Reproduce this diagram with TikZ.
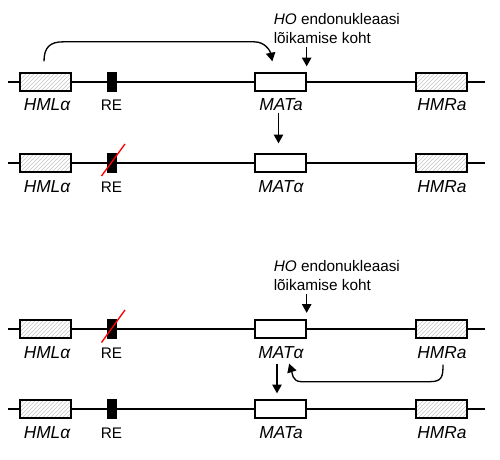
\documentclass[tikz,border=0pt]{standalone}
\usepackage{fontspec}
\setmainfont{Liberation Sans}
\usetikzlibrary{
    arrows.meta,
    positioning,
    calc,
    patterns
}
\tikzset{
  dna/.style    = {line width=1pt},
  gene/.style   = {draw, line width=1pt, fill=white, minimum width=38.25pt,
                   minimum height=13.5pt, inner sep=0pt},
  silent/.style = {draw, line width=1pt, preaction={fill=white},
                   pattern=north east lines, pattern color=gray!45,
                   minimum width=38.25pt, minimum height=13.5pt, inner sep=0pt},
  re/.style     = {draw, fill=black, minimum width=6.5pt,
                   minimum height=14pt, inner sep=0pt},
  lab/.style    = {font=\fontsize{13}{15}\selectfont\itshape, anchor=base, inner sep=0pt},
  relab/.style  = {font=\fontsize{11.5}{13}\selectfont, anchor=base, inner sep=0pt},
  note/.style   = {font=\fontsize{11.5}{13}\selectfont, anchor=base west, inner sep=0pt},
  arr/.style    = {-{Triangle[length=6.5pt,width=7pt]}, line width=1pt},
  cut/.style    = {red, line width=1pt}
}

\begin{document}
\begin{tikzpicture}[x=0.75pt, y=-0.75pt]
    \useasboundingbox (0,0) rectangle (500,460);
    \foreach \r/\y/\m in {1/82/a, 2/163/α, 3/329/α, 4/409/a}{
        \draw[dna] (8,\y) -- (485,\y);
        \node[silent] (hml\r) at (45.5,\y) {};
        \node[re]     (re\r)  at (111.5,\y) {};
        \node[gene]   (mat\r) at (280.5,\y) {};
        \node[silent] (hmr\r) at (441.5,\y) {};
        \node[lab]   (hmllab\r) at (47,\y+29)    {HMLα};
        \node[relab] (relab\r)  at (111.5,\y+29) {RE};
        \node[lab]   (matlab\r) at (281,\y+29)   {MAT\m};
        \node[lab]   (hmrlab\r) at (442,\y+29)   {HMRa};
    }
    \node[note] (ho1)   at (273.5,24.5) {\textit{HO} endonukleaasi};
    \node[note] (koht1) at (273.5,43.5) {lõikamise koht};
    \node[note] (ho3)   at (273.5,271)  {\textit{HO} endonukleaasi};
    \node[note] (koht3) at (273.5,290)  {lõikamise koht};

    \draw[cut] ($(re2)+(-10,13)$) -- ($(re2)+(13.5,-19)$);
    \draw[cut] ($(re3)+(-10,13.5)$) -- ($(re3)+(13.5,-19)$);

    \coordinate (hmlout1) at ($(hml1.north)+(-1.5,-11)$);
    \coordinate (matin1)  at ($(mat1.north west)+(18,-11)$);
    \draw[arr] (hmlout1) .. controls +(0,-14) and +(-13,0) .. ++(19,-19.5)
        -- ($(matin1)+(-18,-19.5)$) .. controls +(11,0) and +(-2,-10) .. (matin1);

    \coordinate (hmrout3) at ($(hmr3.south)+(1.5,26)$);
    \coordinate (matin3)  at ($(mat3.south east)+(-17.5,25)$);
    \draw[arr] (hmrout3) .. controls +(0,12) and +(12,0) .. ++(-13,17)
        -- ($(matin3)+(12,18)$) .. controls +(-9,0) and +(3,9) .. (matin3);

    \draw[arr] ($(mat1.north east)+(0,-25)$) -- ($(mat1.north east)+(0,-6)$);
    \draw[arr] ($(mat3.north east)+(0,-25)$) -- ($(mat3.north east)+(0,-6.5)$);
    \draw[arr] ($(mat1.south)+(-2,21)$) -- ($(mat2.north)+(-2,-10)$);
    \draw[arr] ($(mat3.south)+(-3.5,25)$) -- ($(mat4.north)+(-3.5,-6)$);
\end{tikzpicture}
\end{document}
